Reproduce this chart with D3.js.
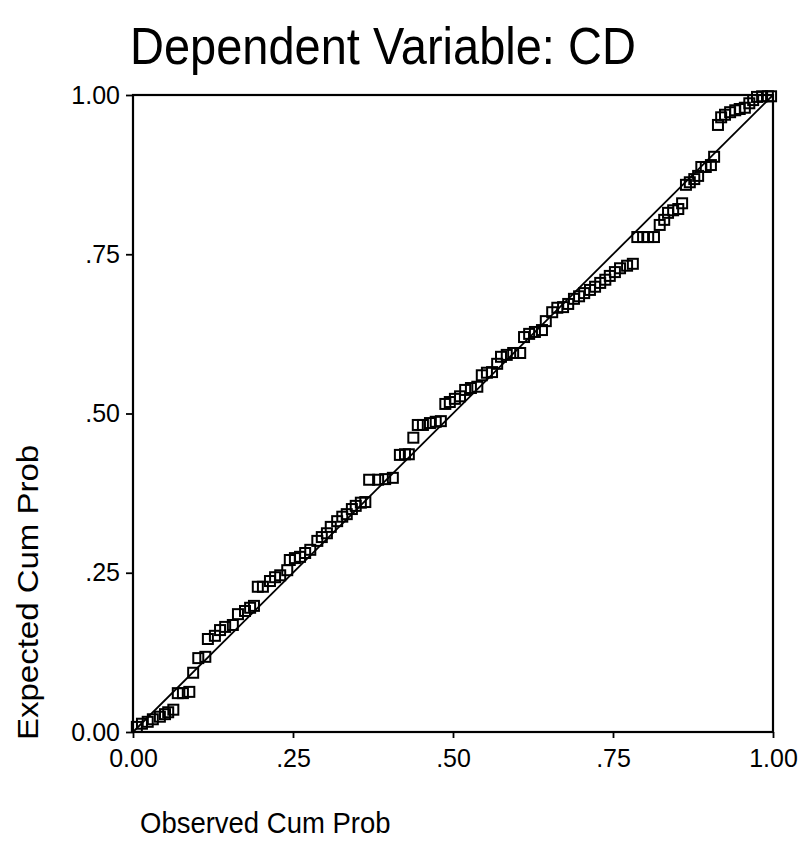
<!DOCTYPE html>
<html>
<head>
<meta charset="utf-8">
<script src="https://cdn.jsdelivr.net/npm/d3@7.9.0/dist/d3.min.js"></script>
<style>
  html, body { margin: 0; padding: 0; background: #fff; }
  svg text { font-family: "Liberation Sans", Arial, sans-serif; fill: #000; }
</style>
</head>
<body>
<svg id="chart" width="804" height="858"></svg>
<script>
// Observed cumulative probability (x) for each residual
const observed = [
  0.006, 0.014, 0.023, 0.031, 0.042, 0.050, 0.055, 0.063, 0.070, 0.078,
  0.088, 0.094, 0.102, 0.113, 0.117, 0.128, 0.136, 0.144, 0.156, 0.164,
  0.175, 0.183, 0.189, 0.195, 0.203, 0.214, 0.222, 0.230, 0.241, 0.245,
  0.253, 0.261, 0.269, 0.277, 0.288, 0.295, 0.303, 0.309, 0.319, 0.327,
  0.334, 0.342, 0.348, 0.356, 0.363, 0.369, 0.383, 0.394, 0.406, 0.417,
  0.425, 0.431, 0.438, 0.445, 0.453, 0.464, 0.473, 0.481, 0.488, 0.495,
  0.503, 0.511, 0.519, 0.528, 0.538, 0.545, 0.553, 0.561, 0.569, 0.575,
  0.584, 0.594, 0.605, 0.611, 0.619, 0.628, 0.639, 0.645, 0.655, 0.663,
  0.672, 0.680, 0.689, 0.697, 0.705, 0.714, 0.722, 0.730, 0.738, 0.745,
  0.753, 0.761, 0.772, 0.781, 0.788, 0.797, 0.805, 0.814, 0.823, 0.830,
  0.836, 0.844, 0.852, 0.858, 0.864, 0.870, 0.877, 0.883, 0.888, 0.895,
  0.903, 0.908, 0.914, 0.919, 0.925, 0.933, 0.941, 0.948, 0.956, 0.963,
  0.969, 0.975, 0.983, 0.992, 0.997
];

// Expected cumulative probability (y), same order
const expected = [
  0.008, 0.013, 0.016, 0.020, 0.024, 0.028, 0.031, 0.035, 0.061, 0.061,
  0.063, 0.093, 0.116, 0.118, 0.146, 0.151, 0.160, 0.165, 0.168, 0.185,
  0.190, 0.195, 0.198, 0.228, 0.228, 0.237, 0.243, 0.246, 0.254, 0.270,
  0.273, 0.275, 0.281, 0.286, 0.300, 0.306, 0.312, 0.322, 0.331, 0.338,
  0.342, 0.350, 0.355, 0.360, 0.361, 0.396, 0.396, 0.397, 0.399, 0.435,
  0.436, 0.436, 0.462, 0.482, 0.482, 0.485, 0.487, 0.488, 0.515, 0.518,
  0.523, 0.527, 0.537, 0.540, 0.542, 0.560, 0.564, 0.565, 0.578, 0.589,
  0.592, 0.595, 0.595, 0.620, 0.625, 0.628, 0.631, 0.645, 0.659, 0.666,
  0.667, 0.672, 0.680, 0.684, 0.689, 0.694, 0.699, 0.705, 0.710, 0.716,
  0.722, 0.728, 0.732, 0.735, 0.777, 0.777, 0.777, 0.777, 0.796, 0.804,
  0.815, 0.819, 0.821, 0.830, 0.859, 0.863, 0.868, 0.873, 0.887, 0.887,
  0.890, 0.903, 0.953, 0.965, 0.969, 0.973, 0.976, 0.978, 0.980, 0.987,
  0.992, 0.997, 0.998, 0.998, 0.998
];

const tickValues = [0, 0.25, 0.5, 0.75, 1];
const tickLabels = ['0.00', '.25', '.50', '.75', '1.00'];

const title = 'Dependent Variable: CD';
const xTitle = 'Observed Cum Prob';
const yTitle = 'Expected Cum Prob';

// Plot frame in page pixels
const frame = { left: 133, right: 773, top: 95, bottom: 732 };
// the scanned text is a little taller than it is wide
const stretch = 1.1;

const svg = d3.select('#chart');

const x = d3.scaleLinear().domain([0, 1]).range([frame.left, frame.right]);
const y = d3.scaleLinear().domain([0, 1]).range([frame.bottom, frame.top]);

// Frame box
svg.append('rect')
  .attr('x', frame.left)
  .attr('y', frame.top)
  .attr('width', frame.right - frame.left)
  .attr('height', frame.bottom - frame.top)
  .attr('fill', 'none')
  .attr('stroke', '#000')
  .attr('stroke-width', 2.2);

// Bottom axis
const xAxis = svg.append('g')
  .attr('transform', `translate(0,${frame.bottom})`)
  .call(d3.axisBottom(x)
    .tickValues(tickValues)
    .tickFormat((d, i) => tickLabels[i])
    .tickSize(6)
    .tickPadding(11));

// Left axis
const yAxis = svg.append('g')
  .attr('transform', `translate(${frame.left},0)`)
  .call(d3.axisLeft(y)
    .tickValues(tickValues)
    .tickFormat((d, i) => tickLabels[i])
    .tickSize(7)
    .tickPadding(6));

[xAxis, yAxis].forEach(g => {
  g.select('.domain').remove();
  g.selectAll('.tick line').attr('stroke', '#000').attr('stroke-width', 1.8);
  g.selectAll('.tick text')
    .attr('font-size', 25)
    .attr('font-family', '"Liberation Sans", Arial, sans-serif')
    .attr('fill', '#000');
});

// Reference diagonal
svg.append('line')
  .attr('x1', x(0)).attr('y1', y(0))
  .attr('x2', x(1)).attr('y2', y(1))
  .attr('stroke', '#000')
  .attr('stroke-width', 1.8);

// Square markers
const points = observed.map((v, i) => ({ obs: v, exp: expected[i] }));
const s = 10;
svg.append('g')
  .selectAll('rect')
  .data(points)
  .join('rect')
  .attr('x', d => x(d.obs) - s / 2)
  .attr('y', d => y(d.exp) - s / 2)
  .attr('width', s)
  .attr('height', s)
  .attr('fill', 'none')
  .attr('stroke', '#000')
  .attr('stroke-width', 2);

// Titles
svg.append('text')
  .attr('transform', `translate(130,64) scale(1,${stretch})`)
  .attr('font-size', 47)
  .text(title);

svg.append('text')
  .attr('transform', `translate(140,833) scale(1,${stretch})`)
  .attr('font-size', 27.5)
  .text(xTitle);

svg.append('text')
  .attr('transform', `translate(38,740) rotate(-90) scale(${stretch},1)`)
  .attr('font-size', 30)
  .text(yTitle);
</script>
</body>
</html>
